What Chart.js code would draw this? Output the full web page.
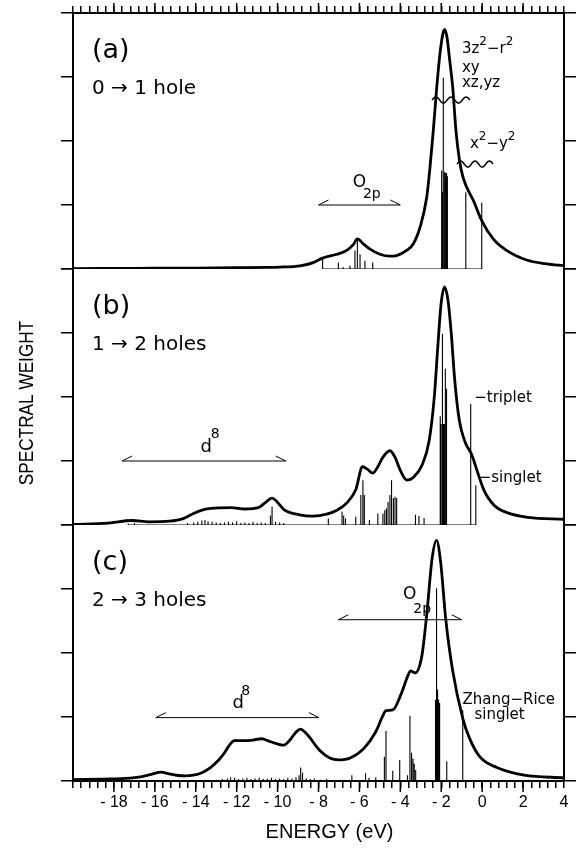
<!DOCTYPE html>
<html><head><meta charset="utf-8">
<script src="https://cdn.jsdelivr.net/npm/chart.js@4.4.1/dist/chart.umd.min.js"></script>
<style>html,body{margin:0;padding:0;background:#fff;}#wrap{position:relative;width:576px;height:855px;}</style>
</head><body><div id="wrap"><canvas id="c"></canvas></div>
<script>
// ---------- data ----------
const energyTicks = [-18,-16,-14,-12,-10,-8,-6,-4,-2,0,2,4];
const weightTicks = [0,1,2,3,4];

// (a) 0 -> 1 hole
const curveA_E = [-20,-17,-14,-12,-10.5,-9.9,-8.9,-8.26,-7.8,-7.11,-6.62,-6.3,-6.1,-5.8,-5.48,-5.0,-4.51,-4.18,-3.69,-3.37,-3.04,-2.71,-2.55,-2.39,-2.22,-2.05,-1.9,-1.82,-1.72,-1.6,-1.44,-1.28,-1.11,-0.95,-0.76,-0.43,-0.03,0.54,1.19,2.17,3.15,4];
const curveA_W = [0.005,0.01,0.015,0.02,0.025,0.03,0.05,0.1,0.17,0.23,0.29,0.38,0.47,0.39,0.31,0.23,0.2,0.21,0.29,0.39,0.65,1.12,1.59,2.16,2.84,3.4,3.7,3.74,3.62,3.3,2.84,2.16,1.7,1.45,1.28,1.07,0.76,0.47,0.29,0.14,0.08,0.05];
const sticksA_E = [-7.8,-7.03,-6.8,-6.46,-6.22,-6.1,-5.97,-5.73,-5.35,-1.98,-1.94,-1.9,-1.86,-1.82,-1.78,-1.74,-1.7,-0.8,-0.02];
const sticksA_H = [0.17,0.1,0.03,0.05,0.29,0.47,0.23,0.13,0.1,1.54,1.2,2.99,1.5,1.52,1.5,1.5,1.45,1.2,1.04];

// (b) 1 -> 2 holes
const curveB_E = [-20,-18.28,-17.11,-16.28,-15.28,-14.61,-14.11,-13.61,-13.27,-12.27,-11.6,-10.94,-10.6,-10.27,-10.02,-9.69,-8.93,-8.27,-7.6,-7.1,-6.6,-6.18,-5.85,-5.6,-5.35,-5.1,-4.85,-4.51,-4.26,-4.01,-3.68,-3.34,-2.93,-2.59,-2.34,-2.17,-2.01,-1.84,-1.67,-1.51,-1.34,-1.12,-0.84,-0.5,-0.26,0.08,0.58,1.25,2.25,4];
const curveB_W = [0.01,0.03,0.07,0.05,0.06,0.1,0.18,0.24,0.26,0.27,0.25,0.27,0.35,0.42,0.36,0.24,0.16,0.14,0.17,0.23,0.35,0.55,0.91,0.87,0.81,0.91,1.06,1.16,1.06,0.86,0.7,0.75,0.94,1.32,2.0,2.78,3.45,3.72,3.51,2.99,2.26,1.64,1.3,1.09,0.86,0.55,0.31,0.19,0.12,0.09];
const sticksB_E = [-17.3,-17.0,-14.4,-14.1,-13.9,-13.7,-13.55,-13.4,-13.2,-13.0,-12.8,-12.6,-12.4,-12.2,-12.0,-11.8,-11.6,-11.4,-11.2,-11.0,-10.8,-10.6,-10.35,-10.27,-10.1,-9.9,-9.7,-7.52,-6.85,-6.77,-6.68,-6.18,-5.93,-5.83,-5.76,-5.51,-5.1,-4.85,-4.76,-4.68,-4.6,-4.51,-4.43,-4.34,-4.26,-4.18,-3.26,-3.09,-2.84,-2.05,-2.01,-1.96,-1.93,-1.89,-1.85,-1.8,-1.76,-1.73,-0.56,-0.31];
const sticksB_H = [0.02,0.03,0.03,0.04,0.05,0.07,0.08,0.06,0.05,0.04,0.03,0.04,0.05,0.04,0.06,0.03,0.04,0.03,0.05,0.03,0.04,0.03,0.15,0.29,0.05,0.04,0.03,0.1,0.21,0.15,0.1,0.13,0.47,0.7,0.47,0.08,0.18,0.18,0.23,0.26,0.36,0.47,0.7,0.42,0.44,0.42,0.16,0.14,0.11,1.7,1.58,2.99,1.58,1.58,1.58,2.44,2.13,1.5,1.89,0.62];

// (c) 2 -> 3 holes
const curveC_E = [-20,-18.5,-17.45,-16.62,-16.1,-15.7,-15.3,-14.95,-14.5,-14.12,-13.7,-13.28,-12.9,-12.62,-12.35,-12.12,-11.62,-11.2,-10.78,-10.4,-10.12,-9.9,-9.7,-9.45,-9.28,-9.05,-8.87,-8.65,-8.45,-8.2,-7.95,-7.45,-7.03,-6.45,-5.78,-5.2,-4.87,-4.7,-4.37,-3.95,-3.6,-3.5,-3.28,-2.95,-2.7,-2.45,-2.23,-2.03,-1.78,-1.45,-0.95,-0.62,-0.12,0.72,2.05,4];
const curveC_W = [0.02,0.03,0.04,0.07,0.11,0.14,0.11,0.09,0.08,0.09,0.13,0.21,0.32,0.43,0.56,0.63,0.63,0.64,0.66,0.62,0.59,0.57,0.56,0.62,0.69,0.78,0.81,0.76,0.69,0.58,0.48,0.36,0.33,0.36,0.51,0.77,1.01,1.1,1.11,1.37,1.67,1.72,1.69,1.95,2.63,3.47,3.76,3.42,2.53,1.74,0.98,0.67,0.38,0.21,0.09,0.05];
const sticksC_E = [-13.0,-12.7,-12.45,-12.3,-12.1,-11.9,-11.7,-11.5,-11.3,-11.1,-10.9,-10.7,-10.5,-10.3,-10.1,-9.9,-9.7,-9.5,-9.3,-9.1,-8.95,-8.87,-8.78,-8.6,-8.4,-8.2,-7.9,-7.6,-6.9,-6.37,-5.7,-5.53,-5.2,-4.78,-4.7,-4.37,-4.03,-3.65,-3.53,-3.45,-3.38,-3.32,-3.25,-2.28,-2.23,-2.18,-2.13,-2.08,-1.73,-0.95];
const sticksC_H = [0.02,0.03,0.04,0.06,0.05,0.03,0.04,0.05,0.03,0.04,0.05,0.03,0.04,0.05,0.03,0.04,0.03,0.05,0.04,0.06,0.09,0.21,0.13,0.04,0.03,0.04,0.02,0.03,0.02,0.09,0.12,0.05,0.06,0.38,0.78,0.16,0.33,0.09,1.02,0.44,0.35,0.27,0.17,1.27,3.01,1.43,1.27,1.22,0.31,1.11];

const panelLabels = ['(a)','(b)','(c)'];
const panelSubtitles = ['0 → 1 hole','1 → 2 holes','2 → 3 holes'];

// ---------- helpers ----------
const TXT = "'DejaVu Sans', sans-serif";
const AX = "'Liberation Sans', Arial, sans-serif";
const toPts = (E, W) => E.map((e, i) => ({x: e, y: W[i]}));
const toSticks = (E, H) => E.flatMap((e, i) => [{x: e, y: 0}, {x: e, y: H[i]}, {x: e, y: 0}]);

function curveSet(E, W, yid) {
  return {data: toPts(E, W), yAxisID: yid, xAxisID: 'x', borderColor: '#000', borderWidth: 2.8,
    pointRadius: 0, cubicInterpolationMode: 'monotone', fill: false};
}
function stickSet(E, H, yid) {
  return {data: toSticks(E, H), yAxisID: yid, xAxisID: 'x', borderColor: '#000', borderWidth: 1.1,
    pointRadius: 0, tension: 0, fill: false};
}

function yAxis(pos, stack, weight) {
  return {type: 'linear', position: pos, stack: stack, stackWeight: 1, weight: weight, min: 0, max: 4,
    ticks: {display: false},
    grid: {drawOnChartArea: false, color: '#000', lineWidth: 1.5, tickLength: 12},
    border: {color: '#000', width: 2},
    afterBuildTicks: s => { s.ticks = weightTicks.map(v => ({value: v})); },
    afterFit: s => { s.width = pos === 'left' ? 73 : 12; }};
}
function minorTicks(s) {
  const t = [];
  for (let k = 0; k <= 60; k++) t.push({value: Math.round((-20 + k * 0.4) * 10) / 10});
  s.ticks = t;
}

function rich(ctx, x, y, segs, align) {
  let w = 0;
  for (const s of segs) { ctx.font = s[1] + 'px ' + TXT; w += ctx.measureText(s[0]).width; }
  let cx = align === 'center' ? x - w / 2 : x;
  ctx.textAlign = 'left'; ctx.textBaseline = 'middle';
  for (const s of segs) {
    ctx.font = s[1] + 'px ' + TXT;
    ctx.fillText(s[0], cx, y + (s[2] || 0));
    cx += ctx.measureText(s[0]).width;
  }
}
function seg(ctx, x1, y1, x2, y2) { ctx.beginPath(); ctx.moveTo(x1, y1); ctx.lineTo(x2, y2); ctx.stroke(); }

const decor = {
  id: 'decor',
  afterDraw(chart) {
    const ctx = chart.ctx, X = chart.scales.x, ca = chart.chartArea;
    const P = (id, e, w) => [X.getPixelForValue(e), chart.scales[id].getPixelForValue(w)];
    ctx.save();
    ctx.strokeStyle = '#000'; ctx.fillStyle = '#000'; ctx.lineCap = 'butt';
    // longer major ticks
    ctx.lineWidth = 1.5;
    for (const v of energyTicks) {
      if (v >= 4) continue;
      const px = X.getPixelForValue(v);
      seg(ctx, px, ca.bottom, px, ca.bottom + 11);
      seg(ctx, px, ca.top, px, ca.top - 10);
    }
    // brackets
    ctx.lineWidth = 1;
    const bracket = (id, e0, e1, w) => {
      const [x0, y] = P(id, e0, w); const [x1] = P(id, e1, w);
      seg(ctx, x0, y, x1, y); seg(ctx, x0, y, x0 + 10, y - 5); seg(ctx, x1, y, x1 - 10, y - 5);
    };
    bracket('ya', -8.0, -4.0, 1.0);
    bracket('yb', -17.6, -9.6, 1.0);
    bracket('yc', -7.03, -1.0, 2.52);
    bracket('yc', -15.95, -7.98, 0.99);
    // wavy markers
    ctx.lineWidth = 1.5;
    const wave = (id, e0, e1, w) => {
      const [x0, y] = P(id, e0, w); const [x1] = P(id, e1, w);
      ctx.beginPath();
      for (let i = 0; i <= 60; i++) {
        const t = i / 60; const xx = x0 + t * (x1 - x0); const yy = y - 3 * Math.sin(t * Math.PI * 5);
        if (i === 0) ctx.moveTo(xx, yy); else ctx.lineTo(xx, yy);
      }
      ctx.stroke();
    };
    wave('ya', -2.45, -0.6, 2.64);
    wave('ya', -1.23, 0.53, 1.64);
    // panel labels
    ['ya', 'yb', 'yc'].forEach((id, i) => {
      let p = P(id, -19.07, 3.4); rich(ctx, p[0], p[1], [[panelLabels[i], 27]]);
      p = P(id, -19.07, 2.82); rich(ctx, p[0], p[1], [[panelSubtitles[i], 20]]);
    });
    let p;
    p = P('ya', -0.99, 3.44); rich(ctx, p[0], p[1], [['3z', 15], ['2', 12, -7], ['−r', 15], ['2', 12, -7]]);
    p = P('ya', -0.99, 3.14); rich(ctx, p[0], p[1], [['xy', 15]]);
    p = P('ya', -0.99, 2.91); rich(ctx, p[0], p[1], [['xz,yz', 15]]);
    p = P('ya', -0.6, 1.95); rich(ctx, p[0], p[1], [['x', 15], ['2', 12, -7], ['−y', 15], ['2', 12, -7]]);
    p = P('ya', -6.33, 1.35); rich(ctx, p[0], p[1], [['O', 17]]);
    p = P('ya', -5.83, 1.17); rich(ctx, p[0], p[1], [['2p', 14]]);
    p = P('yb', -13.77, 1.22); rich(ctx, p[0], p[1], [['d', 18]]);
    p = P('yb', -13.27, 1.42); rich(ctx, p[0], p[1], [['8', 14]]);
    p = P('yb', -0.39, 1.98); rich(ctx, p[0], p[1], [['−triplet', 15]]);
    p = P('yb', -0.17, 0.73); rich(ctx, p[0], p[1], [['−singlet', 15]]);
    p = P('yc', -3.87, 2.92); rich(ctx, p[0], p[1], [['O', 17]]);
    p = P('yc', -3.37, 2.68); rich(ctx, p[0], p[1], [['2p', 14]]);
    p = P('yc', -12.2, 1.22); rich(ctx, p[0], p[1], [['d', 18]]);
    p = P('yc', -11.78, 1.40); rich(ctx, p[0], p[1], [['8', 14]]);
    p = P('yc', 1.3, 1.27); rich(ctx, p[0], p[1], [['Zhang−Rice', 15]], 'center');
    p = P('yc', 0.85, 1.03); rich(ctx, p[0], p[1], [['singlet', 15]], 'center');
    // axis titles
    ctx.textAlign = 'center'; ctx.textBaseline = 'middle';
    ctx.font = '20px ' + AX;
    ctx.fillText('ENERGY (eV)', (ca.left + ca.right) / 2 + 11, ca.bottom + 51);
    ctx.save();
    ctx.translate(ca.left - 46, (ca.top + ca.bottom) / 2 + 6);
    ctx.rotate(-Math.PI / 2);
    ctx.scale(0.86, 1);
    ctx.font = '20px ' + AX;
    ctx.fillText('SPECTRAL WEIGHT', 0, 0);
    ctx.restore();
    ctx.restore();
  }
};

new Chart(document.getElementById('c'), {
  type: 'line',
  data: {datasets: [
    stickSet(sticksA_E, sticksA_H, 'ya'), curveSet(curveA_E, curveA_W, 'ya'),
    stickSet(sticksB_E, sticksB_H, 'yb'), curveSet(curveB_E, curveB_W, 'yb'),
    stickSet(sticksC_E, sticksC_H, 'yc'), curveSet(curveC_E, curveC_W, 'yc')
  ]},
  options: {
    responsive: true, maintainAspectRatio: false, animation: false, parsing: true,
    layout: {padding: 0},
    plugins: {legend: {display: false}, tooltip: {enabled: false}},
    scales: {
      x: {type: 'linear', position: 'bottom', min: -20, max: 4,
        afterBuildTicks: minorTicks,
        ticks: {autoSkip: false, maxRotation: 0, padding: 5, color: '#000',
          font: {family: AX, size: 16},
          callback: v => { const t = energyTicks.find(q => Math.abs(q - v) < 1e-6); return t === undefined ? '' : (t < 0 ? '- ' + Math.abs(t) : String(t)); }},
        grid: {drawOnChartArea: false, color: '#000', lineWidth: 1.5, tickLength: 7},
        border: {color: '#000', width: 2},
        afterFit: s => { s.height = 74; }},
      x2: {type: 'linear', position: 'top', min: -20, max: 4,
        afterBuildTicks: minorTicks,
        ticks: {display: false},
        grid: {drawOnChartArea: false, color: '#000', lineWidth: 1.5, tickLength: 7},
        border: {color: '#000', width: 2},
        afterFit: s => { s.height = 13; }},
      ya: yAxis('left', 'L', 3), yb: yAxis('left', 'L', 2), yc: yAxis('left', 'L', 1),
      yaR: yAxis('right', 'R', 1), ybR: yAxis('right', 'R', 2), ycR: yAxis('right', 'R', 3)
    }
  },
  plugins: [decor]
});
</script></body></html>
